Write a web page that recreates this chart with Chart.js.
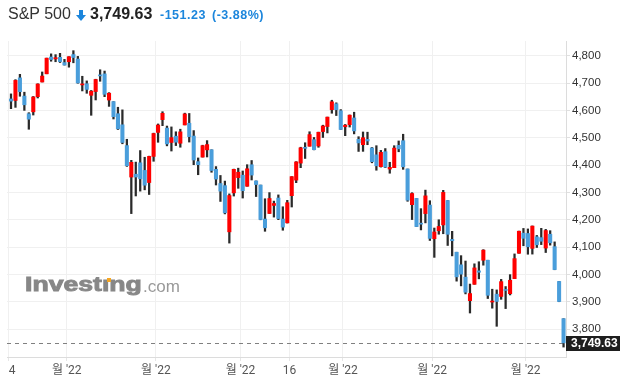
<!DOCTYPE html>
<html><head><meta charset="utf-8">
<script src="https://cdn.jsdelivr.net/npm/chart.js@4/dist/chart.umd.min.js"></script>
<style>
html,body{margin:0;padding:0;background:#fff;width:628px;height:384px;overflow:hidden}
#wrap{position:relative;width:628px;height:384px}
#c{position:absolute;left:0;top:0}
.h{position:absolute;white-space:nowrap;font-family:"Liberation Sans",Arial,sans-serif}
#wm1{position:absolute;left:25px;top:272px;font:bold 20px "Liberation Sans",Arial,sans-serif;color:#878787;-webkit-text-stroke:0.9px #878787;transform:scaleX(1.33);transform-origin:0 0;white-space:nowrap;line-height:24px}
#wm2{position:absolute;left:143px;top:277px;font:17px "Liberation Sans",Arial,sans-serif;color:#999;white-space:nowrap;line-height:20px}
#dot{position:absolute;left:107px;top:278px;width:4px;height:4px;background:#f5a623}
</style></head>
<body><div id="wrap">
<canvas id="c" width="628" height="384"></canvas>
<div class="h" style="left:8px;top:6px;font-size:16px;line-height:16px;color:#333">S&amp;P 500</div>
<svg style="position:absolute;left:76px;top:10px" width="10" height="11" viewBox="0 0 10 11"><rect x="3" y="0" width="4" height="6" fill="#1c86dc"/><polygon points="0,5 10,5 5,11" fill="#1c86dc"/></svg>
<div class="h" style="left:90px;top:6px;font-size:16px;line-height:16px;font-weight:bold;color:#222">3,749.63</div>
<div class="h" style="left:160px;top:8px;font-size:12.5px;line-height:14px;font-weight:bold;color:#1c86dc;letter-spacing:0.5px">-151.23</div>
<div class="h" style="left:212px;top:8px;font-size:12.5px;line-height:14px;font-weight:bold;color:#1c86dc;letter-spacing:0.5px">(-3.88%)</div>
<div id="wm1">Investıng</div>
<div id="dot"></div>
<div id="wm2">.com</div>
</div>
<script>
const dates = [
'2021-12-14','2021-12-15','2021-12-16','2021-12-17','2021-12-20','2021-12-21','2021-12-22','2021-12-23','2021-12-27','2021-12-28','2021-12-29','2021-12-30','2021-12-31',
'2022-01-03','2022-01-04','2022-01-05','2022-01-06','2022-01-07','2022-01-10','2022-01-11','2022-01-12','2022-01-13','2022-01-14','2022-01-18','2022-01-19','2022-01-20','2022-01-21','2022-01-24','2022-01-25','2022-01-26','2022-01-27','2022-01-28','2022-01-31',
'2022-02-01','2022-02-02','2022-02-03','2022-02-04','2022-02-07','2022-02-08','2022-02-09','2022-02-10','2022-02-11','2022-02-14','2022-02-15','2022-02-16','2022-02-17','2022-02-18','2022-02-22','2022-02-23','2022-02-24','2022-02-25','2022-02-28',
'2022-03-01','2022-03-02','2022-03-03','2022-03-04','2022-03-07','2022-03-08','2022-03-09','2022-03-10','2022-03-11','2022-03-14','2022-03-15','2022-03-16','2022-03-17','2022-03-18','2022-03-21','2022-03-22','2022-03-23','2022-03-24','2022-03-25','2022-03-28','2022-03-29','2022-03-30','2022-03-31',
'2022-04-01','2022-04-04','2022-04-05','2022-04-06','2022-04-07','2022-04-08','2022-04-11','2022-04-12','2022-04-13','2022-04-14','2022-04-18','2022-04-19','2022-04-20','2022-04-21','2022-04-22','2022-04-25','2022-04-26','2022-04-27','2022-04-28','2022-04-29',
'2022-05-02','2022-05-03','2022-05-04','2022-05-05','2022-05-06','2022-05-09','2022-05-10','2022-05-11','2022-05-12','2022-05-13','2022-05-16','2022-05-17','2022-05-18','2022-05-19','2022-05-20','2022-05-23','2022-05-24','2022-05-25','2022-05-26','2022-05-27','2022-05-31',
'2022-06-01','2022-06-02','2022-06-03','2022-06-06','2022-06-07','2022-06-08','2022-06-09','2022-06-10','2022-06-13'
];
const openP = [
4642.0,4636.5,4719.1,4652.5,4587.9,4595.0,4650.4,4704.0,4734.0,4795.5,4788.6,4794.2,4775.2,
4778.1,4804.5,4788.0,4693.4,4697.7,4655.3,4669.1,4728.6,4733.6,4638.0,4632.2,4588.0,4547.4,4471.4,4356.3,4366.6,4408.4,4380.6,4336.2,4431.8,
4519.6,4566.4,4535.4,4482.8,4505.8,4480.0,4547.0,4553.2,4506.3,4412.6,4429.3,4455.8,4456.1,4384.6,4332.7,4324.9,4155.8,4298.4,4354.2,
4363.1,4322.6,4401.3,4342.1,4327.0,4202.7,4223.1,4252.6,4279.5,4202.8,4188.8,4288.1,4345.1,4407.3,4462.4,4469.1,4493.1,4470.0,4522.7,4541.1,4602.9,4624.2,4599.0,
4540.3,4548.0,4572.5,4494.2,4474.7,4494.2,4462.6,4437.6,4394.3,4449.1,4385.6,4390.6,4472.3,4489.2,4385.8,4255.3,4278.1,4186.5,4222.6,4253.8,
4130.6,4159.8,4181.2,4270.4,4128.2,4081.3,4035.2,3990.1,3904.0,3963.9,4013.0,4052.0,4052.0,3899.0,3927.8,3919.4,3942.9,3929.6,3984.6,4077.4,4151.1,
4149.8,4095.4,4137.6,4134.7,4096.5,4147.1,4101.7,3974.4,3838.2
];
const highP = [
4660.5,4712.6,4732.0,4666.7,4591.7,4651.1,4697.7,4740.7,4791.5,4807.0,4804.1,4808.9,4786.8,
4796.6,4818.6,4797.7,4725.0,4708.0,4673.0,4714.1,4748.8,4744.1,4665.1,4632.2,4611.6,4602.1,4494.5,4417.4,4411.0,4453.2,4428.7,4432.7,4516.9,
4550.5,4595.3,4542.9,4539.7,4521.9,4531.3,4590.0,4588.9,4526.3,4426.2,4472.8,4489.6,4456.1,4394.6,4362.1,4341.5,4294.7,4385.3,4388.8,
4378.5,4401.5,4416.8,4342.1,4327.0,4276.9,4299.4,4268.3,4291.0,4247.6,4271.1,4357.9,4412.7,4465.4,4481.8,4522.0,4501.1,4520.6,4546.0,4575.7,4637.3,4627.8,4603.1,
4548.7,4583.5,4593.5,4503.9,4521.2,4520.4,4464.4,4471.0,4453.9,4460.5,4410.3,4471.0,4488.3,4512.9,4385.8,4299.0,4278.1,4240.7,4308.5,4269.7,
4169.8,4200.1,4307.7,4270.4,4157.7,4081.3,4068.8,4049.1,3964.8,4038.9,4046.5,4090.7,4052.0,3946.0,3943.4,3981.9,3955.7,3999.3,4075.1,4158.5,4168.3,
4166.5,4177.5,4142.7,4168.8,4164.9,4160.1,4119.1,3974.4,3838.2
];
const lowP = [
4606.5,4611.2,4651.9,4600.2,4531.1,4583.2,4645.5,4704.0,4734.0,4780.0,4778.1,4775.3,4765.8,
4758.2,4774.3,4699.4,4671.3,4662.7,4582.2,4638.3,4706.7,4650.3,4614.8,4568.7,4530.2,4478.0,4395.3,4222.6,4287.1,4304.8,4309.5,4292.5,4414.0,
4483.5,4544.3,4470.4,4451.5,4471.5,4465.4,4547.0,4484.3,4401.4,4364.8,4429.3,4429.7,4373.8,4327.2,4267.1,4221.5,4114.7,4286.8,4315.1,
4279.5,4322.6,4345.6,4285.0,4199.9,4157.9,4223.1,4209.8,4200.5,4161.7,4187.9,4246.7,4335.7,4390.6,4424.3,4469.1,4455.8,4465.2,4501.1,4517.7,4589.7,4581.3,4530.4,
4507.6,4539.2,4514.2,4450.0,4450.3,4474.6,4408.4,4381.3,4392.7,4390.8,4370.3,4390.6,4448.8,4384.5,4267.6,4200.8,4175.0,4162.9,4188.6,4124.3,
4062.5,4147.1,4148.9,4106.0,4067.9,3975.5,3958.2,3928.8,3858.9,3963.9,3984.0,4033.9,3911.9,3876.6,3810.3,3909.0,3875.1,3925.0,3984.6,4077.4,4104.9,
4073.9,4074.4,4098.7,4109.2,4080.2,4107.2,4017.2,3900.2,3734.3
];
const closeP = [
4634.09,4709.85,4668.67,4620.64,4568.02,4649.23,4696.56,4725.79,4791.19,4786.35,4793.06,4778.73,4766.18,
4796.56,4793.54,4700.58,4696.05,4677.03,4670.29,4713.07,4726.35,4659.03,4662.85,4577.11,4532.76,4482.73,4397.94,4410.13,4356.45,4349.93,4326.51,4431.85,4515.55,
4546.54,4589.38,4477.44,4500.53,4483.87,4521.54,4587.18,4504.08,4418.64,4401.67,4471.07,4475.01,4380.26,4348.87,4304.76,4225.50,4288.70,4384.65,4373.94,
4306.26,4386.54,4363.49,4328.87,4201.09,4170.70,4277.88,4259.52,4204.31,4173.11,4262.45,4357.86,4411.67,4463.12,4461.18,4511.61,4456.24,4520.16,4543.06,4575.52,4631.60,4602.45,4530.41,
4545.86,4582.64,4525.12,4481.15,4500.21,4488.28,4412.53,4397.45,4446.59,4392.59,4391.69,4462.21,4459.45,4393.66,4271.78,4296.12,4175.20,4183.96,4287.50,4131.93,
4155.38,4175.48,4300.17,4146.87,4123.34,3991.24,4001.05,3935.18,3930.08,4023.89,4008.01,4088.85,3923.68,3900.79,3901.36,3973.75,3941.48,3978.73,4057.84,4158.24,4132.15,
4101.23,4176.82,4108.54,4121.43,4160.68,4115.77,4017.82,3900.86,3749.63
];
const tickDates = ['2021-12-14','2022-01-03','2022-02-01','2022-03-01','2022-03-16','2022-04-01','2022-05-02','2022-06-01'];
const tickTexts = ['14',"월 '22","월 '22","월 '22",'16',"월 '22","월 '22","월 '22"];
const yTicks = [3800,3900,4000,4100,4200,4300,4400,4500,4600,4700,4800];
const lastPrice = 3749.63;

const UP = '#ff0000', DOWN = '#4a9edb', WICK = '#2a2a2a';

const bodies = dates.map((d,i)=>({x:i, y:[openP[i], closeP[i]]}));
const wicks = dates.map((d,i)=>({x:i, y:[lowP[i], highP[i]]}));
const bodyColors = dates.map((d,i)=> closeP[i] >= openP[i] ? UP : DOWN);

const lastLine = {
  id:'lastLine',
  beforeDatasetsDraw(chart){
    const {ctx, chartArea:a, scales:{y}} = chart;
    const py = Math.round(y.getPixelForValue(lastPrice)) + 0.5;
    ctx.save();
    ctx.setLineDash([4,4]); ctx.strokeStyle = '#808080'; ctx.lineWidth = 1;
    ctx.beginPath(); ctx.moveTo(a.left, py); ctx.lineTo(a.right, py); ctx.stroke();
    ctx.restore();
  },
  afterDraw(chart){
    const {ctx, chartArea:a, scales:{y}} = chart;
    ctx.save();
    // axis labels are clipped at the plot's left edge, as in the reference
    ctx.fillStyle = '#fff'; ctx.fillRect(0, a.bottom + 1, a.left, chart.height - a.bottom);
    const py = Math.round(y.getPixelForValue(lastPrice));
    ctx.fillStyle = '#1e1e1e'; ctx.fillRect(a.right, py - 7, 54, 15);
    ctx.fillStyle = '#fff'; ctx.font = 'bold 12px "Liberation Sans", Arial, sans-serif';
    ctx.textBaseline = 'middle'; ctx.textAlign = 'left';
    ctx.fillText(lastPrice.toLocaleString('en-US',{minimumFractionDigits:2}), a.right + 5, py + 1);
    ctx.restore();
  }
};

new Chart(document.getElementById('c'), {
  type:'bar',
  data:{
    datasets:[
      {data:bodies, backgroundColor:bodyColors, barThickness:3.4, borderWidth:0, minBarLength:1, grouped:false, order:0},
      {data:wicks, backgroundColor:WICK, barThickness:1.6, borderWidth:0, grouped:false, order:1}
    ]
  },
  options:{
    responsive:false, animation:false,
    layout:{padding:{top:41,left:7,right:0,bottom:0}},
    plugins:{legend:{display:false}, tooltip:{enabled:false}},
    scales:{
      x:{
        type:'linear', min:-0.898, max:124.55, offset:false,
        afterBuildTicks:s=>{ s.ticks = tickDates.map(d=>({value: dates.indexOf(d) - 0.5})); },
        ticks:{autoSkip:false, maxRotation:0, padding:3, color:'#555',
          font:{family:'Roboto, "Noto Sans CJK KR", sans-serif', size:12},
          callback:(v,i)=>tickTexts[i]},
        grid:{color:'#f0f0f0', offset:false, tickLength:4, tickColor:'#e6e6e6'},
        border:{color:'#dcdcdc'},
        afterFit:s=>{ s.height = 27; s.paddingLeft = 0; s.paddingRight = 0; }
      },
      y:{
        position:'right', min:3698, max:4854,
        afterBuildTicks:s=>{ s.ticks = yTicks.map(v=>({value:v})); },
        ticks:{padding:2, color:'#333', font:{family:'"Liberation Sans", Arial, sans-serif', size:11.5},
          callback:v=>v.toLocaleString('en-US')},
        grid:{color:'#f0f0f0', tickLength:4, tickColor:'#e0e0e0'},
        border:{color:'#dcdcdc'},
        afterFit:s=>{ s.width = 62; s.paddingTop = 0; s.paddingBottom = 0; }
      }
    }
  },
  plugins:[lastLine]
});
</script>
</body></html>
